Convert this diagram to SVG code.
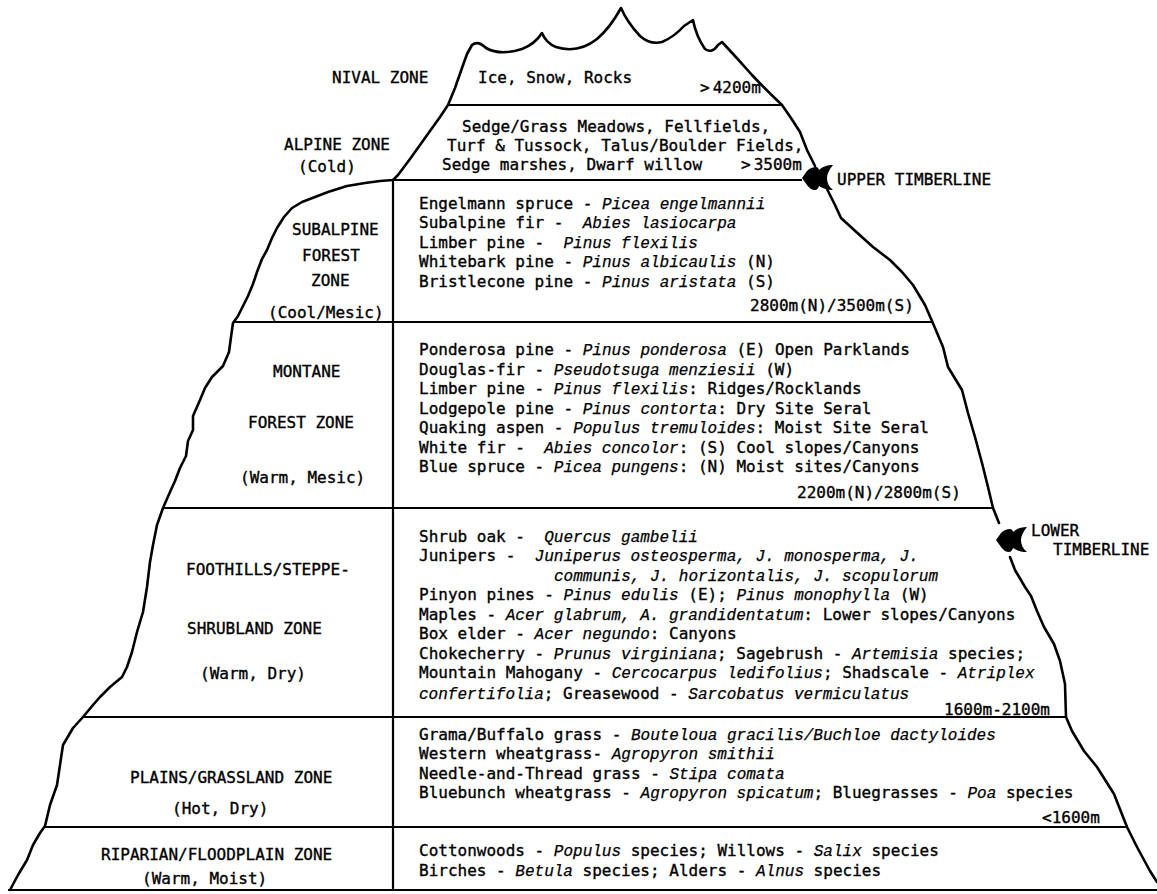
<svg xmlns="http://www.w3.org/2000/svg" xmlns:xlink="http://www.w3.org/1999/xlink" width="1157" height="894" viewBox="0 0 1157 894">
  <style>
    text { font-family: "DejaVu Sans Mono", "Liberation Mono", monospace; font-size: 16px; fill: #000; stroke: #000; stroke-width: 0.35px; white-space: pre; }
    .i { font-family: "Liberation Mono", "DejaVu Sans Mono", monospace; font-style: italic; stroke-width: 0.25px; }
    .edge { fill: none; stroke: #000; stroke-width: 2.6; stroke-linejoin: round; stroke-linecap: round; }
    .zl { fill: none; stroke: #000; stroke-width: 2.2; }
  </style>
  <defs>
    <!-- timberline marker: pointed head with forked tail, origin at left tip -->
    <path id="tl" d="M0,0 L5,-7 C8,-10 11,-11 14,-11 C15.5,-11 16.5,-10 17,-8 C20,-11 25,-13 31,-13 C27,-8 25,-4 25,0 C25,5 27,9 31,12 C25,12 20,10 17,8 C16.5,10 15,12 13,12 C10,12 7,10 5,7 Z" fill="#000"/>
  </defs>
  <rect width="1157" height="894" fill="#fff"/>

  <!-- mountain outline -->
  <g id="outline">
    <path class="edge" d="M10,890 L18,875 L27,860 L33,845 L40,833 L45,826 L50,805 L57,785 L60,765 L63,745 L73,728 L83,717 L93,705 L100,697 L110,687 L122,677 L127,667 L132,652 L137,632 L143,612 L147,587 L150,562 L153,545 L157,525 L163,508 L170,492 L175,481 L180,468 L186,456 L188,441 L193,430 L193,416 L200,400 L205,388 L212,377 L223,366 L229,352 L231,337 L233,323 L238,316 L243,306 L248,296 L253,284 L257,272 L262,259 L267,250 L272,238 L277,228 L284,217 L292,208 L302,202 L315,197 L328,192 L347,186 L365,183 L380,181 L393,180 L398,175 L410,159 L425,138 L440,117 L448,105 L455,88 L462,68 L467,54 L472,45 Q478,40 486,48 Q500,56 522,49 Q535,44 542,33 Q546,43 556,47 Q578,54 597,39 Q610,28 621,8 Q627,22 640,36 Q650,45 662,42 Q674,37 684,26 L693,20 Q696,36 705,49 Q712,54 718,45 L722,42 Q737,58 752,75 Q768,92 782,105 L791,118 L800,132 L807,150 L815,166"/>
    <path class="edge" d="M827,189 L835,205 L841,218 L853,229 L873,247 L890,260 L902,272 L913,285 L925,305 L932,321 L943,347 L948,367 L962,390 L968,413 L975,437 L982,463 L988,487 L993,508 L999,523"/>
    <path class="edge" d="M1010,557 L1015,570 L1025,587 L1031,596 L1037,611 L1044,627 L1054,644 L1060,661 L1065,684 L1066,717 L1072,731 L1084,751 L1097,767 L1114,794 L1127,827 L1137,847 L1150,871 L1157,882"/>
  </g>

  <!-- zone boundaries -->
  <g id="boundaries">
    <line class="zl" x1="448" y1="105" x2="782" y2="105"/>
    <line class="zl" x1="393" y1="180" x2="802" y2="180"/>
    <line class="zl" x1="233" y1="322" x2="932" y2="322"/>
    <line class="zl" x1="163" y1="508" x2="993" y2="508"/>
    <line class="zl" x1="83" y1="717" x2="1066" y2="717"/>
    <line class="zl" x1="45" y1="827" x2="1127" y2="827"/>
    <line class="zl" x1="8" y1="890" x2="1157" y2="890"/>
    <line class="zl" x1="393" y1="180" x2="393" y2="890"/>
  </g>

  <!-- timberline markers -->
  <g id="upper-timberline">
    <use xlink:href="#tl" x="802" y="178"/>
    <text x="837" y="185">UPPER TIMBERLINE</text>
  </g>
  <g id="lower-timberline">
    <use xlink:href="#tl" x="996" y="540"/>
    <text x="1031" y="536">LOWER</text>
    <text x="1053" y="555">TIMBERLINE</text>
  </g>

  <g id="zone-nival">
    <text x="332" y="83">NIVAL ZONE</text>
    <text x="478" y="83">Ice, Snow, Rocks</text>
    <text x="700" y="93">&gt;<tspan dx="3">4200m</tspan></text>
  </g>

  <g id="zone-alpine">
    <text x="284" y="150">ALPINE ZONE</text>
    <text x="298" y="172">(Cold)</text>
    <text x="462" y="132">Sedge/Grass Meadows, Fellfields,</text>
    <text x="447" y="151">Turf &amp; Tussock, Talus/Boulder Fields,</text>
    <text x="442" y="170">Sedge marshes, Dwarf willow</text>
    <text x="741" y="170">&gt;<tspan dx="3">3500m</tspan></text>
  </g>

  <g id="zone-subalpine">
    <text x="292" y="235">SUBALPINE</text>
    <text x="302" y="261">FOREST</text>
    <text x="311" y="286">ZONE</text>
    <text x="268" y="318">(Cool/Mesic)</text>
    <text x="419" y="208.5">Engelmann spruce - <tspan class="i">Picea engelmannii</tspan></text>
    <text x="419" y="228">Subalpine fir -  <tspan class="i">Abies lasiocarpa</tspan></text>
    <text x="419" y="247.5">Limber pine -  <tspan class="i">Pinus flexilis</tspan></text>
    <text x="419" y="267">Whitebark pine - <tspan class="i">Pinus albicaulis</tspan> (N)</text>
    <text x="419" y="287">Bristlecone pine - <tspan class="i">Pinus aristata</tspan> (S)</text>
    <text x="750" y="311">2800m(N)/3500m(S)</text>
  </g>

  <g id="zone-montane">
    <text x="273" y="377">MONTANE</text>
    <text x="248" y="428">FOREST ZONE</text>
    <text x="240" y="483">(Warm, Mesic)</text>
    <text x="419" y="355">Ponderosa pine - <tspan class="i">Pinus ponderosa</tspan> (E) Open Parklands</text>
    <text x="419" y="374.5">Douglas-fir - <tspan class="i">Pseudotsuga menziesii</tspan> (W)</text>
    <text x="419" y="394">Limber pine - <tspan class="i">Pinus flexilis</tspan>: Ridges/Rocklands</text>
    <text x="419" y="413.5">Lodgepole pine - <tspan class="i">Pinus contorta</tspan>: Dry Site Seral</text>
    <text x="419" y="433">Quaking aspen - <tspan class="i">Populus tremuloides</tspan>: Moist Site Seral</text>
    <text x="419" y="452.5">White fir -  <tspan class="i">Abies concolor</tspan>: (S) Cool slopes/Canyons</text>
    <text x="419" y="472">Blue spruce - <tspan class="i">Picea pungens</tspan>: (N) Moist sites/Canyons</text>
    <text x="797" y="497.5">2200m(N)/2800m(S)</text>
  </g>

  <g id="zone-foothills">
    <text x="186" y="575">FOOTHILLS/STEPPE-</text>
    <text x="187" y="634">SHRUBLAND ZONE</text>
    <text x="200" y="679">(Warm, Dry)</text>
    <text x="419" y="541.5">Shrub oak -  <tspan class="i">Quercus gambelii</tspan></text>
    <text x="419" y="561">Junipers -  <tspan class="i">Juniperus osteosperma, J. monosperma, J.</tspan></text>
    <text x="554" y="580.5" class="i">communis, J. horizontalis, J. scopulorum</text>
    <text x="419" y="600">Pinyon pines - <tspan class="i">Pinus edulis</tspan> (E); <tspan class="i">Pinus monophylla</tspan> (W)</text>
    <text x="419" y="619.5">Maples - <tspan class="i">Acer glabrum, A. grandidentatum</tspan>: Lower slopes/Canyons</text>
    <text x="419" y="639">Box elder - <tspan class="i">Acer negundo</tspan>: Canyons</text>
    <text x="419" y="658.5">Chokecherry - <tspan class="i">Prunus virginiana</tspan>; Sagebrush - <tspan class="i">Artemisia</tspan> species;</text>
    <text x="419" y="678">Mountain Mahogany - <tspan class="i">Cercocarpus ledifolius</tspan>; Shadscale - <tspan class="i">Atriplex</tspan></text>
    <text x="419" y="699"><tspan class="i">confertifolia</tspan>; Greasewood - <tspan class="i">Sarcobatus vermiculatus</tspan></text>
    <text x="944" y="715">1600m-2100m</text>
  </g>

  <g id="zone-plains">
    <text x="130" y="783">PLAINS/GRASSLAND ZONE</text>
    <text x="172" y="814">(Hot, Dry)</text>
    <text x="419" y="739.5">Grama/Buffalo grass - <tspan class="i">Bouteloua gracilis/Buchloe dactyloides</tspan></text>
    <text x="419" y="759">Western wheatgrass- <tspan class="i">Agropyron smithii</tspan></text>
    <text x="419" y="778.5">Needle-and-Thread grass - <tspan class="i">Stipa comata</tspan></text>
    <text x="419" y="798">Bluebunch wheatgrass - <tspan class="i">Agropyron spicatum</tspan>; Bluegrasses - <tspan class="i">Poa</tspan> species</text>
    <text x="1042" y="822.5">&lt;1600m</text>
  </g>

  <g id="zone-riparian">
    <text x="101" y="860">RIPARIAN/FLOODPLAIN ZONE</text>
    <text x="142" y="884">(Warm, Moist)</text>
    <text x="419" y="855.5">Cottonwoods - <tspan class="i">Populus</tspan> species; Willows - <tspan class="i">Salix</tspan> species</text>
    <text x="419" y="876">Birches - <tspan class="i">Betula</tspan> species; Alders - <tspan class="i">Alnus</tspan> species</text>
  </g>
</svg>
